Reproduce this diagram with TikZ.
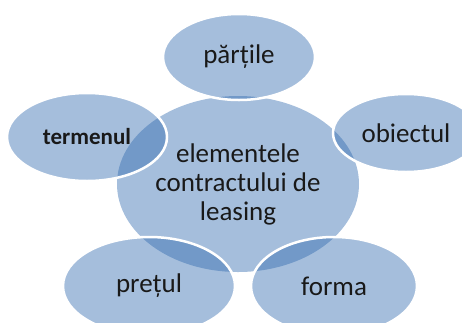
\documentclass[tikz,border=0pt]{standalone}
\usepackage{fontspec}
\setmainfont{Carlito}
\usepackage{xcolor}
\usetikzlibrary{shapes.geometric, positioning}
\definecolor{petalblue}{RGB}{47,105,174}
\definecolor{inkgray}{RGB}{25,25,25}
\tikzset{
	hub/.style={ellipse, fill=petalblue, fill opacity=0.43, text opacity=1, text=inkgray, minimum width=242pt, minimum height=176pt, inner sep=0pt, align=center, font=\fontsize{27}{29}\selectfont},
	petal/.style={ellipse, draw=white, line width=2.5pt, fill=petalblue, fill opacity=0.43, draw opacity=1, text opacity=1, text=inkgray, inner sep=0pt, font=\fontsize{27}{30}\selectfont}
}

\begin{document}
\begin{tikzpicture}[x=1pt, y=-1pt]
	% Fix the page to the size of the reference.
	\useasboundingbox (0,0) rectangle (462,322);
	\clip (0,0) rectangle (462,322);
	
	% === CENTRE ===
	\node[hub] (hub) at (238,184) {elementele\\contractului de\\leasing};
	
	% === PETALS ===
	% The five elements, clockwise from the top.
	\node[petal, minimum width=152pt, minimum height=86pt] (parti) at (239,57) {părțile};
	\node[petal, minimum width=146pt, minimum height=78pt] (obiect) at (406,133) {obiectul};
	\node[petal, minimum width=166pt, minimum height=98pt] (forma) at (334,286) {forma};
	\node[petal, minimum width=172pt, minimum height=98pt] (pret) at (149,286) {prețul};
	\node[petal, minimum width=160pt, minimum height=88pt, font=\fontsize{23}{26}\bfseries] (termen) at (87,137) {termenul};
\end{tikzpicture}
\end{document}
